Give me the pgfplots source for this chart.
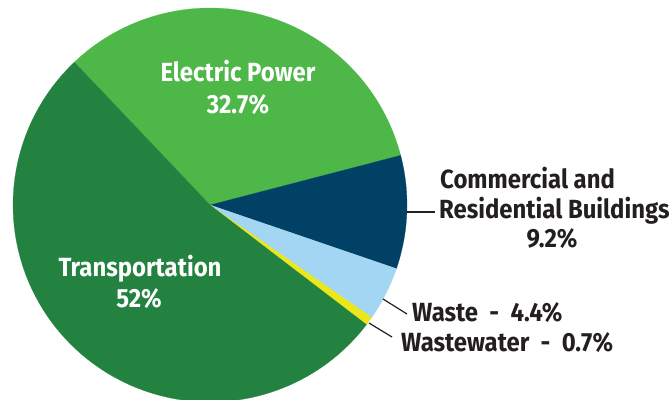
\documentclass[border=0pt]{standalone}
\usepackage{pgfplots}
\usepackage{pgfplotstable}
\pgfplotsset{compat=1.18}
\usepackage{fontspec}
\setmainfont{Fira Sans}
\definecolor{celec}{HTML}{4DB748}
\definecolor{ctrans}{HTML}{248241}
\definecolor{ccomm}{HTML}{004165}
\definecolor{cwaste}{HTML}{A3D6F3}
\definecolor{cww}{HTML}{EBE719}
\definecolor{ctext}{HTML}{231F20}
\pgfplotstableread{
label value color
Electric 32.7 celec
Commercial 9.2 ccomm
Waste 4.4 cwaste
Wastewater 0.7 cww
Transportation 52 ctrans
}\piedata
\newcommand{\lbl}[1]{\scalebox{1}[1.1]{#1}}
\begin{document}
\begin{tikzpicture}
\begin{axis}[
  scale only axis, width=669bp, height=400bp,
  xmin=0, xmax=669, ymin=0, ymax=400,
  hide axis, clip=true,
]
\coordinate (LL) at (axis cs:0,0);
\coordinate (UR) at (axis cs:669,400);
\pgfplotstablegetrowsof{\piedata}
\pgfmathtruncatemacro\N{\pgfplotsretval-1}
\xdef\cum{133.5}
\pgfplotsforeachungrouped \i in {0,...,\N}{
  \pgfplotstablegetelem{\i}{value}\of\piedata \let\v\pgfplotsretval
  \pgfplotstablegetelem{\i}{color}\of\piedata \let\c\pgfplotsretval
  \pgfmathsetmacro\a{\cum}
  \pgfmathsetmacro\b{\cum-\v/99*360}
  \edef\temp{\noexpand\fill[\c, draw=\c, line width=0.2pt] (axis cs:210,195) -- plot[domain=\a:\b,samples=80] ({210+197*cos(\noexpand\x)},{195+197*sin(\noexpand\x)}) -- cycle;}
  \temp
  \xdef\cum{\b}
}
\begin{scope}[every node/.style={font=\fontsize{24}{28}\selectfont\bfseries, inner sep=0pt}]
\node[white, anchor=base] at (axis cs:238,318) {\lbl{Electric Power}};
\node[white, anchor=base] at (axis cs:238,286) {\lbl{32.7\%}};
\node[white, anchor=base] at (axis cs:140,123) {\lbl{Transportation}};
\node[white, anchor=base] at (axis cs:139,92) {\lbl{52\%}};
\node[ctext, anchor=base west] at (axis cs:440,211) {\lbl{Commercial and}};
\node[ctext, anchor=base west] at (axis cs:439,181) {\lbl{Residential Buildings}};
\node[ctext, anchor=base] at (axis cs:552,152) {\lbl{9.2\%}};
\node[ctext, anchor=base west] at (axis cs:412,78) {\lbl{Waste\ \ -\ \ 4.4\%}};
\node[ctext, anchor=base west] at (axis cs:401,48) {\lbl{Wastewater\ \ -\ \ 0.7\%}};
\end{scope}
\draw[ctext, line width=1.2pt] (axis cs:407,188) -- (axis cs:435,188);
\draw[ctext, line width=1.2pt] (axis cs:383,101) -- (axis cs:407,86);
\draw[ctext, line width=1.2pt] (axis cs:369,77) -- (axis cs:392,63);
\end{axis}
\pgfresetboundingbox
\useasboundingbox (LL) rectangle (UR);
\end{tikzpicture}
\end{document}
